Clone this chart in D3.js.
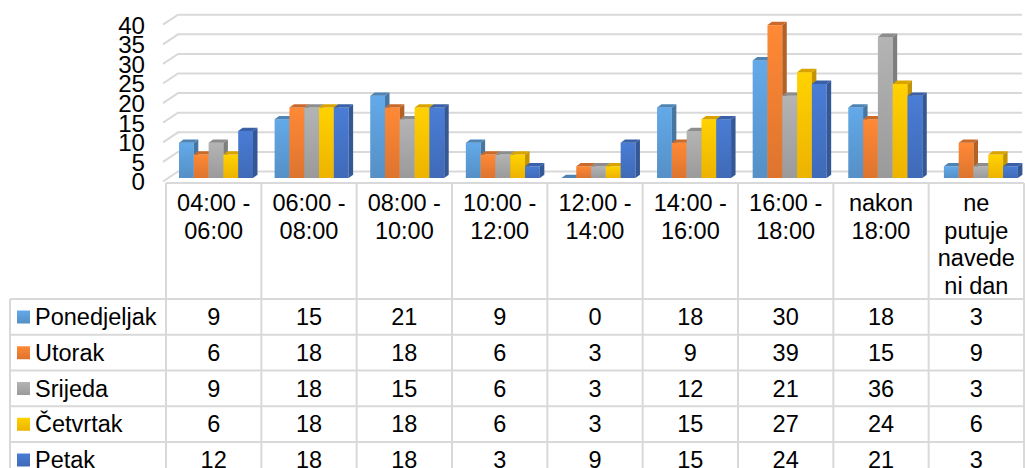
<!DOCTYPE html>
<html>
<head>
<meta charset="utf-8">
<script src="https://cdn.jsdelivr.net/npm/d3@7"></script>
<style>
  html, body { margin: 0; padding: 0; background: #fff; }
  svg { display: block; font-family: "Liberation Sans", Arial, sans-serif; }
</style>
</head>
<body>
<svg id="chart" width="1025" height="468"></svg>
<script>
(function(){
    "use strict";

    // podaci
    const categories = ["04:00 - 06:00", "06:00 - 08:00", "08:00 - 10:00", "10:00 - 12:00", "12:00 - 14:00",
        "14:00 - 16:00", "16:00 - 18:00", "nakon 18:00", "ne putuje navedeni dan"];
    const categoryLines = [["04:00 -", "06:00"], ["06:00 -", "08:00"], ["08:00 -", "10:00"], ["10:00 -", "12:00"],
        ["12:00 -", "14:00"], ["14:00 -", "16:00"], ["16:00 -", "18:00"], ["nakon", "18:00"],
        ["ne", "putuje", "navede", "ni dan"]];
    const seriesNames = ["Ponedjeljak", "Utorak", "Srijeda", "Četvrtak", "Petak"];
    const ponedjeljak = [9, 15, 21, 9, 0, 18, 30, 18, 3];
    const utorak = [6, 18, 18, 6, 3, 9, 39, 15, 9];
    const srijeda = [9, 18, 15, 6, 3, 12, 21, 36, 3];
    const cetvrtak = [6, 18, 18, 6, 3, 15, 27, 24, 6];
    const petak = [12, 18, 18, 3, 9, 15, 24, 21, 3];
    const yTicks = [0, 5, 10, 15, 20, 25, 30, 35, 40];

    const seriesValues = [ponedjeljak, utorak, srijeda, cetvrtak, petak];
    const colors = ["#5B9BD5", "#ED7D31", "#A5A5A5", "#FFC000", "#4472C4"];

    const svg = d3.select("#chart"),
        grid = "#D9D9D9",
        fontSize = 23.5;

    // skale
    const y = d3.scaleLinear().domain([0, 40]).range([178, 21.2]),
        xCol = d3.scaleBand().domain(categories).range([166, 1024]),
        xBars = d3.scaleBand().domain(categories).range([166.5, 1027]),
        xSer = d3.scaleBand().domain(seriesNames).range([0, 74]),
        yRow = d3.scaleBand().domain(seriesNames).range([299, 299 + 5 * 35.75]);

    const defs = svg.append("defs");
    colors.forEach((c, i) => {
        let g = defs.append("linearGradient")
            .attr("id", "grad" + i)
            .attr("x1", 0).attr("y1", 0).attr("x2", 0).attr("y2", 1);
        g.append("stop").attr("offset", "0%").attr("stop-color", d3.color(c).brighter(0.25));
        g.append("stop").attr("offset", "100%").attr("stop-color", d3.color(c).darker(0.2));
    });

    // zidovi / mreža (3D)
    const gGrid = svg.append("g").attr("stroke", grid).attr("stroke-width", 2).attr("fill", "none");
    yTicks.forEach((t) => {
        gGrid.append("path")
            .attr("d", `M163,${y(t) + 3.5}L178,${y(t) - 6.5}L1022,${y(t) - 6.5}`);
    });

    // oznake osi
    svg.append("g").selectAll("text")
        .data(yTicks)
        .enter()
        .append("text")
        .attr("transform", (d) => `translate(145,${y(d) + 4.5}) scale(1.05,1)`)
        .attr("text-anchor", "end")
        .attr("dominant-baseline", "central")
        .attr("font-size", 23)
        .attr("fill", "#000")
        .text((d) => d);

    // stupci
    const dx = 4.5, dy = 3.3,
        base = y(0),
        w = xSer.bandwidth(),
        gBars = svg.append("g");

    categories.forEach((cat, ci) => {
        seriesNames.forEach((s, si) => {
            let v = seriesValues[si][ci],
                x0 = xBars(cat) + 12.5 + xSer(s),
                yt = y(v),
                col = d3.color(colors[si]);
            if (v > 0) {
                gBars.append("rect")
                    .attr("x", x0).attr("y", yt)
                    .attr("width", w).attr("height", base - yt)
                    .attr("fill", `url(#grad${si})`);
                gBars.append("path")
                    .attr("d", `M${x0 + w},${yt}L${x0 + w + dx},${yt - dy}L${x0 + w + dx},${base - dy}L${x0 + w},${base}Z`)
                    .attr("fill", col.darker(0.75));
            }
            gBars.append("path")
                .attr("d", `M${x0},${yt}L${x0 + dx},${yt - dy}L${x0 + w + dx},${yt - dy}L${x0 + w},${yt}Z`)
                .attr("fill", col.darker(0.45));
        });
    });

    // tablica podataka
    const gTable = svg.append("g").attr("stroke", grid).attr("stroke-width", 2);
    const bottom = 470;
    gTable.append("line").attr("x1", 166).attr("x2", 1024).attr("y1", 183).attr("y2", 183);
    seriesNames.forEach((s) => {
        gTable.append("line").attr("x1", 10).attr("x2", 1024).attr("y1", yRow(s)).attr("y2", yRow(s));
    });
    gTable.append("line").attr("x1", 10).attr("x2", 10).attr("y1", 299).attr("y2", bottom);
    categories.forEach((c) => {
        gTable.append("line").attr("x1", xCol(c)).attr("x2", xCol(c)).attr("y1", 183).attr("y2", bottom);
    });
    gTable.append("line").attr("x1", 1024).attr("x2", 1024).attr("y1", 183).attr("y2", bottom);

    // nazivi kategorija
    categories.forEach((c, ci) => {
        let t = svg.append("text")
            .attr("text-anchor", "middle")
            .attr("font-size", fontSize)
            .attr("fill", "#000");
        categoryLines[ci].forEach((line, li) => {
            t.append("tspan")
                .attr("x", xCol(c) + xCol.bandwidth() / 2)
                .attr("y", 203 + li * 27.6)
                .attr("dominant-baseline", "central")
                .text(line);
        });
    });

    // legenda + vrijednosti
    seriesNames.forEach((s, si) => {
        let cy = yRow(s) + 18;
        svg.append("rect")
            .attr("x", 17).attr("y", cy - 6.5)
            .attr("width", 13).attr("height", 13)
            .attr("fill", `url(#grad${si})`);
        svg.append("text")
            .attr("x", 35).attr("y", cy)
            .attr("dominant-baseline", "central")
            .attr("font-size", fontSize)
            .attr("fill", "#000")
            .text(s);
        categories.forEach((c, ci) => {
            svg.append("text")
                .attr("x", xCol(c) + xCol.bandwidth() / 2)
                .attr("y", cy)
                .attr("text-anchor", "middle")
                .attr("dominant-baseline", "central")
                .attr("font-size", fontSize)
                .attr("fill", "#000")
                .text(seriesValues[si][ci]);
        });
    });
}());
</script>
</body>
</html>
